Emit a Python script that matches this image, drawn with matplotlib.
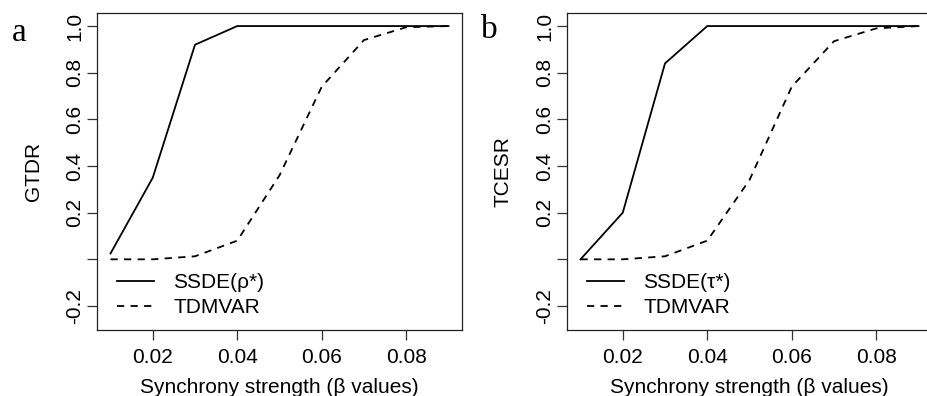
import matplotlib
matplotlib.use("Agg")
import matplotlib.pyplot as plt

plt.rcParams['font.family'] = ['Liberation Sans', 'DejaVu Sans']

# beta values and detection rates
beta = [0.01, 0.02, 0.03, 0.04, 0.05, 0.06, 0.07, 0.08, 0.09]
ssde_rho = [0.025, 0.35, 0.92, 1.0, 1.0, 1.0, 1.0, 1.0, 1.0]
tdmvar_a = [0.0, 0.0, 0.013, 0.08, 0.36, 0.74, 0.94, 0.995, 1.0]
ssde_tau = [0.0, 0.2, 0.84, 1.0, 1.0, 1.0, 1.0, 1.0, 1.0]
tdmvar_b = [0.0, 0.0, 0.013, 0.08, 0.34, 0.74, 0.935, 0.99, 1.0]

xticks = [0.02, 0.04, 0.06, 0.08]
yticks = [-0.2, 0.0, 0.2, 0.4, 0.6, 0.8, 1.0]
ylabs = ['-0.2', '', '0.2', '0.4', '0.6', '0.8', '1.0']

W, H = 927, 396
fig = plt.figure(figsize=(W / 100, H / 100), dpi=100)

panels = [
    (97, ssde_rho, tdmvar_a, 'SSDE(\u03c1*)', 'GTDR', 'a', 12, 41),
    (567, ssde_tau, tdmvar_b, 'SSDE(\u03c4*)', 'TCESR', 'b', 481, 38),
]

for left, ssde, tdm, lab, ylab, letter, lx, ly in panels:
    ax = fig.add_axes([left / W, 1 - 330 / H, 365 / W, 317 / H])
    ax.plot(beta, ssde, color='black', lw=1.3, label=lab)
    ax.plot(beta, tdm, color='black', lw=1.3, ls=(0, (4, 3.5)), label='TDMVAR')
    ax.set_xlim(0.0068, 0.0932)
    ax.set_ylim(-0.303, 1.056)
    ax.set_xticks(xticks)
    ax.set_xticklabels(['%.2f' % t for t in xticks])
    ax.set_yticks(yticks)
    ax.set_yticklabels(ylabs, rotation=90, va='center')
    ax.tick_params(axis='both', direction='out', length=7, width=0.9,
                   labelsize=15, color='#333333')
    ax.tick_params(axis='x', pad=6)
    ax.tick_params(axis='y', pad=2)
    for s in ax.spines.values():
        s.set_linewidth(0.9)
        s.set_color('#222222')
    ax.set_xlabel('Synchrony strength (\u03b2 values)', fontsize=15)
    ax.xaxis.set_label_coords(0.5, -0.15)
    ax.set_ylabel(ylab, fontsize=15)
    ax.yaxis.set_label_coords(-0.148, 0.5)
    ax.legend(loc='upper left', bbox_to_anchor=(0.055, 0.18), frameon=False,
              fontsize=15, handlelength=1.75, handletextpad=0.95,
              labelspacing=0.3, borderpad=0, borderaxespad=0)
    fig.text(lx / W, 1 - ly / H, letter, fontsize=24,
             family='Liberation Serif', va='baseline', ha='left')

fig.savefig('out.png', dpi=100)
